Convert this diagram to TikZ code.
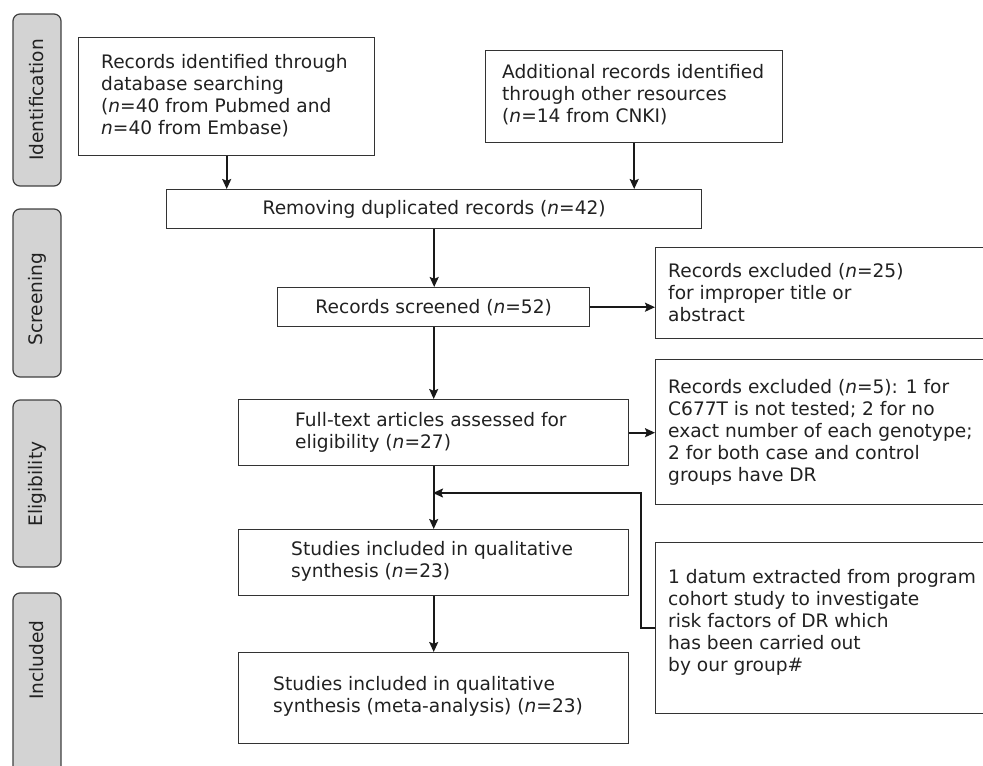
\documentclass[tikz,border=0pt]{standalone}
\usepackage{fontspec}
\setmainfont{DejaVu Sans}
\usetikzlibrary{arrows.meta}
\definecolor{boxline}{HTML}{333333}
\definecolor{phasefill}{HTML}{D3D3D3}
\definecolor{phaseline}{HTML}{404040}
\begin{document}
\begin{tikzpicture}[x=1pt,y=-1pt,
  every node/.style={font=\fontsize{18.6}{22}\selectfont},
  box/.style={draw=boxline, line width=1.4pt, rectangle, inner sep=0pt, anchor=north west},
  txt/.style={inner sep=0pt, anchor=west, align=left, text=black!87},
  ctxt/.style={inner sep=0pt, align=center, text=black!87},
  phase/.style={draw=phaseline, fill=phasefill, line width=1.2pt, rounded corners=7pt},
  ptxt/.style={inner sep=0pt, rotate=90, text=black!87},
  arr/.style={draw=black!90, line width=1.6pt, -{Stealth[length=10pt,width=9pt,inset=1.8pt]}}
]
\useasboundingbox (0,0) rectangle (983,766);
\clip (0,0) rectangle (983,766);

% phase bars
\draw[phase] (13,14) rectangle (61,186);
\draw[phase] (13,209) rectangle (61,377);
\draw[phase] (13,400) rectangle (61,567);
\draw[phase] (13,593) rectangle (61,820);
\node[ptxt] (pid) at (37,100) {Identification};
\node[ptxt] (psc) at (37,299) {Screening};
\node[ptxt] (pel) at (37,484) {Eligibility};
\node[ptxt] (pin) at (37,660) {Included};

% boxes
\node[box, minimum width=296pt, minimum height=118pt] (A) at (78,37) {};
\node[txt] (At) at (101,96) {Records identified through\\database searching\\(\textit{n}=40 from Pubmed and\\\textit{n}=40 from Embase)};

\node[box, minimum width=297pt, minimum height=92pt] (B) at (485,50) {};
\node[txt] (Bt) at (502,95) {Additional records identified\\through other resources\\(\textit{n}=14 from CNKI)};

\node[box, minimum width=535pt, minimum height=39pt] (R) at (166,189) {};
\node[ctxt] (Rt) at (R.center) {Removing duplicated records (\textit{n}=42)};

\node[box, minimum width=312pt, minimum height=39pt] (S) at (277,287) {};
\node[ctxt] (St) at (S.center) {Records screened (\textit{n}=52)};

\node[box, minimum width=390pt, minimum height=66pt] (F) at (238,399) {};
\node[txt] (Ft) at (295,432) {Full-text articles assessed for\\eligibility (\textit{n}=27)};

\node[box, minimum width=360pt, minimum height=91pt] (E1) at (655,247) {};
\node[txt] (E1t) at (668,293) {Records excluded (\textit{n}=25)\\for improper title or\\abstract};

\node[box, minimum width=360pt, minimum height=145pt] (E2) at (655,359) {};
\node[txt] (E2t) at (668,432) {Records excluded (\textit{n}=5): 1 for\\C677T is not tested; 2 for no\\exact number of each genotype;\\2 for both case and control\\groups have DR};

\node[box, minimum width=390pt, minimum height=66pt] (Q1) at (238,529) {};
\node[txt] (Q1t) at (291,561) {Studies included in qualitative\\synthesis (\textit{n}=23)};

\node[box, minimum width=390pt, minimum height=91pt] (Q2) at (238,652) {};
\node[txt] (Q2t) at (273,696) {Studies included in qualitative\\synthesis (meta-analysis) (\textit{n}=23)};

\node[box, minimum width=360pt, minimum height=171pt] (D) at (655,542) {};
\node[txt] (Dt) at (668,622) {1 datum extracted from program\\cohort study to investigate\\risk factors of DR which\\has been carried out\\by our group\#};

% connectors
\draw[arr] (A.south) -- (A.south |- R.north);
\draw[arr] (B.south) -- (B.south |- R.north);
\draw[arr] (R.south) -- (R.south |- S.north);
\draw[arr] (S.east) -- (S.east -| E1.west);
\draw[arr] (S.south) -- (S.south |- F.north);
\draw[arr] (F.east) -- (F.east -| E2.west);
\draw[arr] (F.south) -- (F.south |- Q1.north);
\draw[arr] (Q1.south) -- (Q1.south |- Q2.north);
\coordinate (k) at (641,493);
\coordinate (m) at (433,493);
\draw[arr] (D.west) -| (k) -- (m);
\end{tikzpicture}
\end{document}
